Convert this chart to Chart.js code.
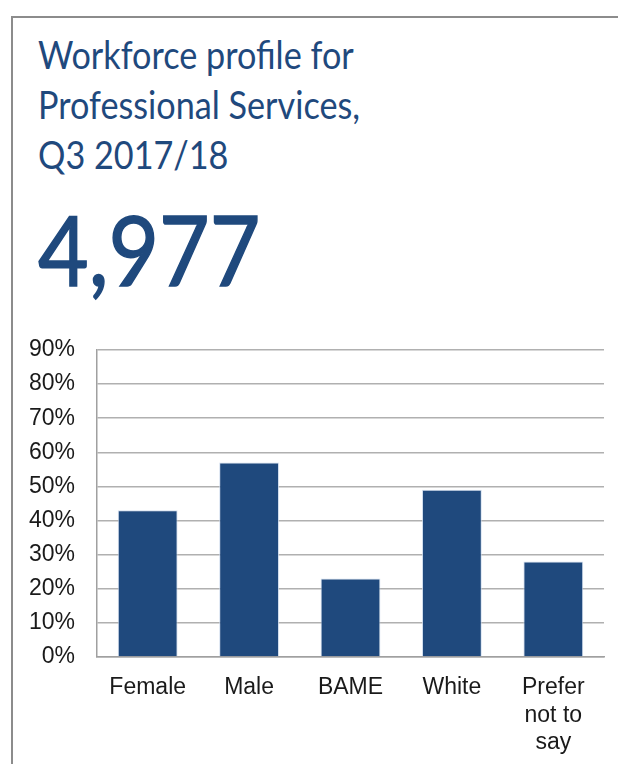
<!DOCTYPE html>
<html>
<head>
<meta charset="utf-8">
<script src="https://cdn.jsdelivr.net/npm/chart.js@4.4.0/dist/chart.umd.min.js"></script>
<style>
  html, body { margin: 0; padding: 0; background: #fff; }
  body { width: 618px; height: 764px; position: relative; overflow: hidden; }
  .frame {
    position: absolute; left: 11px; top: 16px; right: -4px; bottom: -4px;
    border-left: 2px solid #8c8c8c; border-top: 2px solid #8c8c8c;
  }
  .title {
    position: absolute; left: 38px; top: 29px;
    font-family: Lato, "Open Sans", sans-serif; font-size: 38px; line-height: 50px;
    color: #1f497d; white-space: nowrap;
    transform: scaleX(0.9); transform-origin: left top;
  }
  .headline {
    position: absolute; left: 38px; top: 200px;
    font-family: Lato, "Open Sans", sans-serif; font-size: 97px; line-height: 97px;
    color: #1f497d; white-space: nowrap;
    -webkit-text-stroke: 1.5px #1f497d;
    transform: scaleX(0.9); transform-origin: left top;
  }
  #chartBox { position: absolute; left: 0; top: 320px; width: 618px; height: 444px; }
</style>
</head>
<body>
<div class="frame"></div>
<div class="title">Workforce profile for<br>Professional Services,<br>Q3 2017/18</div>
<div class="headline">4,977</div>
<div id="chartBox"><canvas id="chart"></canvas></div>

<script>
// Chart data
const categories = ['Female', 'Male', 'BAME', 'White', ['Prefer', 'not to', 'say']];
const shares = [43, 57, 23, 49, 28];
const yTicks = [0, 10, 20, 30, 40, 50, 60, 70, 80, 90];

const labelFont = { family: '"Liberation Sans", Arial, sans-serif', size: 23, lineHeight: 1.2 };

new Chart(document.getElementById('chart'), {
    type: 'bar',
    data: {
        labels: categories,
        datasets: [{
            data: shares,
            backgroundColor: '#1f497d',
            borderColor: 'rgba(200, 215, 235, 0.8)',
            borderWidth: 1,
            borderSkipped: 'bottom',
            barPercentage: 0.59,
            categoryPercentage: 1
        }]
    },
    options: {
        responsive: true,
        maintainAspectRatio: false,
        animation: false,
        layout: { padding: { top: 30, right: 14, left: 0, bottom: 0 } },
        plugins: {
            legend: { display: false },
            tooltip: { enabled: false }
        },
        scales: {
            y: {
                min: 0,
                max: 90,
                afterBuildTicks: function(scale) {
                    scale.ticks = yTicks.map(v => ({ value: v }));
                },
                afterFit: function(scale) {
                    scale.width = 97;
                },
                ticks: {
                    padding: 22,
                    color: '#1a1a1a',
                    font: labelFont,
                    callback: function(value) {
                        return value + '%';
                    }
                },
                grid: {
                    color: '#b0b0b0',
                    lineWidth: 1.5,
                    drawTicks: false
                },
                border: { color: '#a0a0a0', width: 1.5 }
            },
            x: {
                afterFit: function(scale) {
                    scale.height = 107;
                },
                ticks: {
                    padding: 17,
                    color: '#1a1a1a',
                    font: labelFont,
                    maxRotation: 0,
                    autoSkip: false
                },
                grid: { display: false, drawTicks: false },
                border: { color: '#a0a0a0', width: 1.5 }
            }
        }
    },
    plugins: [{
        // keep the plot area top fixed regardless of tick label height
        id: 'fixTop',
        afterLayout: function(chart) {
            const y = chart.scales.y;
            if (y.top !== 30) {
                chart.chartArea.top = 30;
                y.top = 30;
                y.height = y.bottom - 30;
                y.configure();
            }
        }
    }]
});
</script>
</body>
</html>
